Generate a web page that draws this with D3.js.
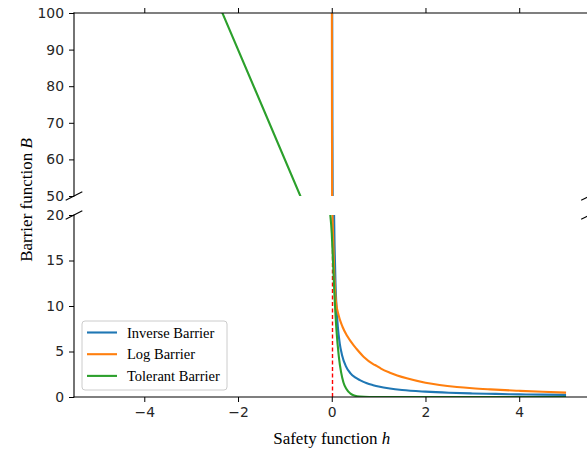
<!DOCTYPE html>
<html><head><meta charset="utf-8">
<script src="https://cdn.jsdelivr.net/npm/d3@7"></script>
<style>html,body{margin:0;padding:0;background:#fff;}</style>
</head><body>
<svg id="chart" width="587" height="452"></svg>
<script>
// ---- data ----
const xTicks = [-4, -2, 0, 2, 4];
const topYTicks = [50, 60, 70, 80, 90, 100];
const bottomYTicks = [0, 5, 10, 15, 20];
const seriesNames = ["Inverse Barrier", "Log Barrier", "Tolerant Barrier"];
const seriesColors = ["#1f77b4", "#ff7f0e", "#2ca02c"];

const inverseH = [0.009,0.01,0.015,0.02,0.03,0.04,0.05,0.06,0.08,0.1,0.13,0.17,0.22,0.3,0.4,0.5,0.6,0.75,0.884,1,1.24,1.5,2,2.5,3,3.5,4,4.5,5];
const inverseB = [111,100,66.7,50,33.3,25,20,16.7,12.5,10,7.7,5.9,4.6,3.4,2.6,2.15,1.85,1.5,1.3,1.15,0.93,0.77,0.59,0.47,0.39,0.34,0.29,0.26,0.23];

const logH = [0.002,0.004,0.007,0.01,0.015,0.028,0.049,0.086,0.145,0.229,0.33,0.456,0.528,0.684,0.884,0.956,1.05,1.24,1.6,2,2.3,2.67,3,3.38,4,4.5,5];
const logB = [115,80,55,40,20,18,14.1,10.66,9.0,7.72,6.7,5.75,5.3,4.4,3.62,3.42,3.12,2.67,2.05,1.57,1.32,1.1,0.96,0.84,0.68,0.57,0.48];

const tolerantH = [-2.45,-1.5,-0.67,-0.6,-0.04,0,0.03,0.057,0.1,0.15,0.2,0.25,0.31,0.4,0.5,0.6,0.8,1,2,3,4,5];
const tolerantB = [103.5,75,50,47.9,20.5,18,14.5,11.3,7.4,4.5,2.7,1.6,0.9,0.37,0.13,0.05,0.007,0,0,0,0,0];

const xLabel = "Safety function ";
const xLabelVar = "h";
const yLabel = "Barrier function ";
const yLabelVar = "B";

// ---- layout ----
const svg = d3.select("#chart");
const left = 74, right = 589.5;
const topPanel = {y0: 13, y1: 196};
const botPanel = {y0: 215, y1: 397};

const x = d3.scaleLinear().domain([-5.5, 5.5]).range([left, right]);
const yTop = d3.scaleLinear().domain([50, 100]).range([topPanel.y1, topPanel.y0]);
const yBot = d3.scaleLinear().domain([0, 20]).range([botPanel.y1, botPanel.y0]);

const tickFont = "'DejaVu Sans', sans-serif";
const serif = "'Liberation Serif', 'Times New Roman', serif";

const defs = svg.append("defs");
defs.append("clipPath").attr("id","clipTop").append("rect")
  .attr("x", left).attr("y", topPanel.y0).attr("width", right-left).attr("height", topPanel.y1-topPanel.y0);
defs.append("clipPath").attr("id","clipBot").append("rect")
  .attr("x", left).attr("y", botPanel.y0).attr("width", right-left).attr("height", botPanel.y1-botPanel.y0);

const series = [
  {h: inverseH, b: inverseB},
  {h: logH, b: logB},
  {h: tolerantH, b: tolerantB}
];

function drawLines(g, yScale, clipId) {
  const grp = g.append("g").attr("clip-path", `url(#${clipId})`);
  series.forEach((s, i) => {
    const pts = s.h.map((h, j) => [h, s.b[j]]);
    const line = d3.line().x(d => x(d[0])).y(d => yScale(d[1])).curve(d3.curveMonotoneX);
    grp.append("path").datum(pts).attr("d", line)
      .attr("fill","none").attr("stroke", seriesColors[i]).attr("stroke-width", 2.1)
      .attr("stroke-linejoin","round");
  });
  return grp;
}

// red dashed line at h=0 (bottom panel), snapped to pixel centre
const rx = Math.round(x(0)) + 0.5;
const botG = svg.append("g");
botG.append("line")
  .attr("x1", rx).attr("x2", rx).attr("y1", yBot(0)).attr("y2", yBot(20))
  .attr("stroke", "#ff0000").attr("stroke-width", 1.4).attr("stroke-dasharray", "4,2.5");
drawLines(botG, yBot, "clipBot");
const topG = svg.append("g");
drawLines(topG, yTop, "clipTop");

// ---- axes ----
function styleAxis(g) {
  g.select(".domain").remove();
  g.selectAll(".tick line").attr("stroke", "#000").attr("stroke-width", 1);
  g.selectAll(".tick text").attr("font-family", tickFont).attr("font-size", "13.9px").attr("fill", "#262626");
}
const ayTop = svg.append("g").attr("transform", `translate(${left},0)`)
  .call(d3.axisLeft(yTop).tickValues(topYTicks).tickSize(5).tickPadding(5));
styleAxis(ayTop);
const ayBot = svg.append("g").attr("transform", `translate(${left},0)`)
  .call(d3.axisLeft(yBot).tickValues(bottomYTicks).tickSize(5).tickPadding(5));
styleAxis(ayBot);
const axBot = svg.append("g").attr("transform", `translate(0,${botPanel.y1})`)
  .call(d3.axisBottom(x).tickValues(xTicks).tickSize(5).tickPadding(5));
styleAxis(axBot);
const axTop = svg.append("g").attr("transform", `translate(0,${topPanel.y0})`)
  .call(d3.axisTop(x).tickValues(xTicks).tickSize(5).tickFormat(""));
styleAxis(axTop);

// spines
const spine = (x1,y1,x2,y2) => svg.append("line").attr("x1",x1).attr("y1",y1).attr("x2",x2).attr("y2",y2)
  .attr("stroke","#000").attr("stroke-width",1.1).attr("stroke-linecap","square");
spine(left, topPanel.y0, right, topPanel.y0);
spine(left, topPanel.y0, left, topPanel.y1);
spine(right, topPanel.y0, right, topPanel.y1);
spine(left, botPanel.y0, left, botPanel.y1);
spine(right, botPanel.y0, right, botPanel.y1);
spine(left, botPanel.y1, right, botPanel.y1);

// break marks
const brk = (cx, cy) => svg.append("line")
  .attr("x1", cx-8.3).attr("y1", cy+4.2).attr("x2", cx+8.3).attr("y2", cy-4.2)
  .attr("stroke","#000").attr("stroke-width",1.1);
[left, right].forEach(cx => { brk(cx, topPanel.y1); brk(cx, botPanel.y0); });

// ---- labels ----
const xl = svg.append("text").attr("x", x(0)).attr("y", 444)
  .attr("text-anchor","middle").attr("font-family", serif).attr("font-size","17px").attr("fill","#000");
xl.append("tspan").text(xLabel);
xl.append("tspan").attr("font-style","italic").text(xLabelVar);

const yl = svg.append("text").attr("transform", `translate(32,200) rotate(-90)`)
  .attr("text-anchor","middle").attr("font-family", serif).attr("font-size","17px").attr("fill","#000");
yl.append("tspan").text(yLabel);
yl.append("tspan").attr("font-style","italic").text(yLabelVar);

// ---- legend ----
const lg = svg.append("g");
lg.append("rect").attr("x", 82).attr("y", 321).attr("width", 145).attr("height", 69)
  .attr("rx", 3).attr("fill","#fff").attr("fill-opacity",0.8).attr("stroke","#cccccc").attr("stroke-width",1);
seriesNames.forEach((name, i) => {
  const cy = 332.5 + i*21.7;
  lg.append("line").attr("x1", 87).attr("x2", 117).attr("y1", cy).attr("y2", cy)
    .attr("stroke", seriesColors[i]).attr("stroke-width", 2.1);
  lg.append("text").attr("x", 127).attr("y", cy + 5).attr("font-family", serif)
    .attr("font-size","14.5px").attr("fill","#000").text(name);
});
</script>
</body></html>
